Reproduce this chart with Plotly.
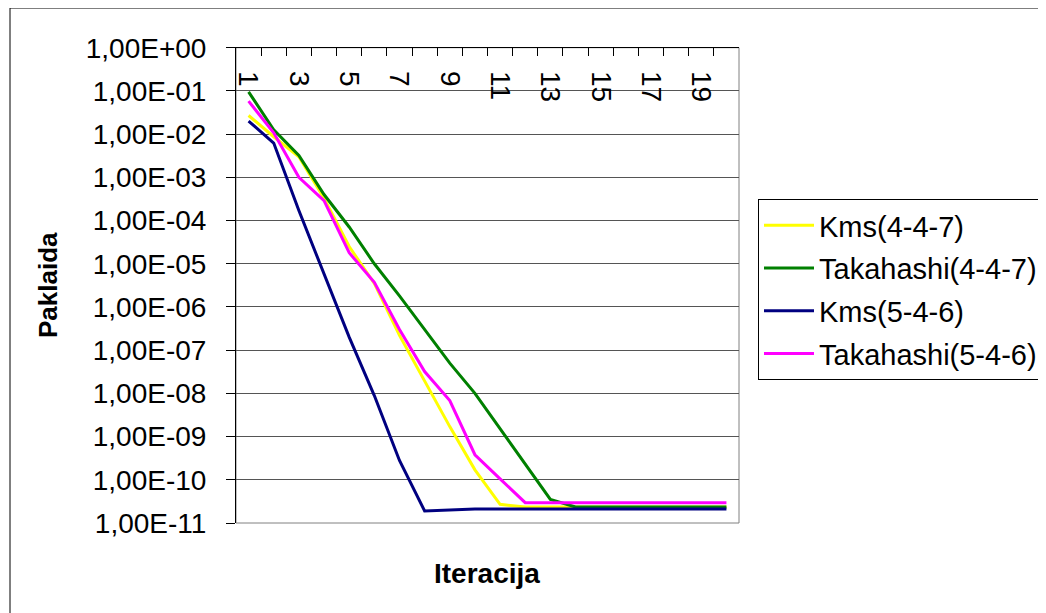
import plotly.graph_objects as go

iterations = list(range(1, 21))
tick_vals = [1, 3, 5, 7, 9, 11, 13, 15, 17, 19]
tick_text = [str(v) for v in tick_vals]
y_tick_vals = [10.0 ** (-k) for k in range(0, 12)]
y_tick_text = ["1,00E+00"] + ["1,00E-%02d" % k for k in range(1, 12)]

kms_447 = [2.7e-2, 8.7e-3, 3.0e-3, 3.3e-4, 2.5e-5, 3.5e-6, 2.2e-7, 1.9e-8, 1.7e-9, 1.7e-10,
           2.7e-11, 2.35e-11, 2.35e-11, 2.35e-11, 2.35e-11, 2.35e-11, 2.35e-11, 2.35e-11, 2.35e-11, 2.35e-11]
takahashi_447 = [9.5e-2, 1.26e-2, 3.2e-3, 4.0e-4, 7.1e-5, 1.0e-5, 1.8e-6, 3.0e-7, 5.0e-8, 1.0e-8,
                 1.5e-9, 2.2e-10, 3.5e-11, 2.35e-11, 2.35e-11, 2.35e-11, 2.35e-11, 2.35e-11, 2.35e-11, 2.35e-11]
kms_546 = [2.0e-2, 6.2e-3, 1.7e-4, 5.6e-6, 2.0e-7, 8.9e-9, 2.8e-10, 1.9e-11, 2.0e-11, 2.1e-11,
           2.1e-11, 2.1e-11, 2.1e-11, 2.1e-11, 2.1e-11, 2.1e-11, 2.1e-11, 2.1e-11, 2.1e-11, 2.1e-11]
takahashi_546 = [5.8e-2, 1.07e-2, 1.0e-3, 2.9e-4, 1.8e-5, 3.7e-6, 3.0e-7, 3.2e-8, 6.8e-9, 3.8e-10,
                 1.05e-10, 2.95e-11, 2.95e-11, 2.95e-11, 2.95e-11, 2.95e-11, 2.95e-11, 2.95e-11, 2.95e-11, 2.95e-11]

series_names = ["Kms(4-4-7)", "Takahashi(4-4-7)", "Kms(5-4-6)", "Takahashi(5-4-6)"]
series_values = [kms_447, takahashi_447, kms_546, takahashi_546]
series_colors = ["#FFFF00", "#008000", "#000080", "#FF00FF"]

W, H = 1046, 613
OFF = 8  # page body margin offset
FONT = "Liberation Sans, Arial, sans-serif"


def px_x(sx):
    return (sx - OFF) / W


def px_y(sy):
    return 1 - (sy - OFF) / H


fig = go.Figure()
for i, (name, vals, col) in enumerate(zip(series_names, series_values, series_colors)):
    fig.add_trace(go.Scatter(x=iterations, y=vals, name=name, mode="lines",
                             line=dict(color=col, width=3), legendgroup="g%d" % i,
                             xaxis="x2" if i == len(series_names) - 1 else "x"))

plot_l, plot_r, plot_t, plot_b = 236, 739, 47.7, 523
xdom = [px_x(plot_l), px_x(plot_r)]

fig.update_layout(
    width=W, height=H,
    margin=dict(l=0, r=0, t=0, b=0, autoexpand=False),
    paper_bgcolor="white", plot_bgcolor="white",
    font=dict(family=FONT, size=28, color="black"),
    showlegend=True,
    legend=dict(x=px_x(758), y=px_y(199), xanchor="left", yanchor="top",
                bordercolor="black", borderwidth=1, bgcolor="white",
                font=dict(family=FONT, size=29, color="black"),
                traceorder="grouped", tracegroupgap=2, itemwidth=50),
    xaxis=dict(domain=xdom, range=[0.5, 20.5], side="top", anchor="y",
               showgrid=False, zeroline=False, showline=True, linecolor="black", linewidth=1,
               showticklabels=False, ticks="",
               minor=dict(tickvals=[k + 0.5 for k in range(1, 20)], ticks="inside",
                          ticklen=8, tickcolor="black", tickwidth=1, showgrid=False)),
    xaxis2=dict(domain=xdom, range=[0.5, 20.5], overlaying="x", anchor="free",
                position=px_y(70), side="bottom",
                showgrid=False, zeroline=False, showline=False, ticks="",
                tickmode="array", tickvals=tick_vals, ticktext=tick_text, tickangle=90,
                tickfont=dict(family=FONT, size=28, color="black")),
    yaxis=dict(domain=[px_y(plot_b), px_y(plot_t)], type="log", range=[-11, 0],
               tickmode="array", tickvals=y_tick_vals, ticktext=y_tick_text,
               showgrid=True, gridcolor="#555555", gridwidth=1, zeroline=False,
               showline=True, linecolor="black", linewidth=1,
               ticks="outside", ticklen=9, tickcolor="black", ticklabelstandoff=14,
               tickfont=dict(family=FONT, size=28, color="black")),
    shapes=[
        dict(type="rect", xref="x domain", yref="y domain", x0=0, x1=1, y0=0, y1=1,
             line=dict(color="#808080", width=1), layer="below"),
        dict(type="rect", xref="paper", yref="paper", x0=px_x(10), x1=1.05, y0=-0.05, y1=1.0,
             line=dict(color="black", width=1), layer="below"),
    ],
    annotations=[
        dict(text="<b>Paklaida</b>", xref="paper", yref="paper", x=px_x(48), y=px_y(285),
             xanchor="center", yanchor="middle",
             textangle=-90, showarrow=False, font=dict(family=FONT, size=26, color="black")),
        dict(text="<b>Iteracija</b>", xref="paper", yref="paper", x=px_x(487), y=px_y(573),
             xanchor="center", yanchor="middle",
             showarrow=False, font=dict(family=FONT, size=28, color="black")),
    ],
)

fig.write_html("out.html")
